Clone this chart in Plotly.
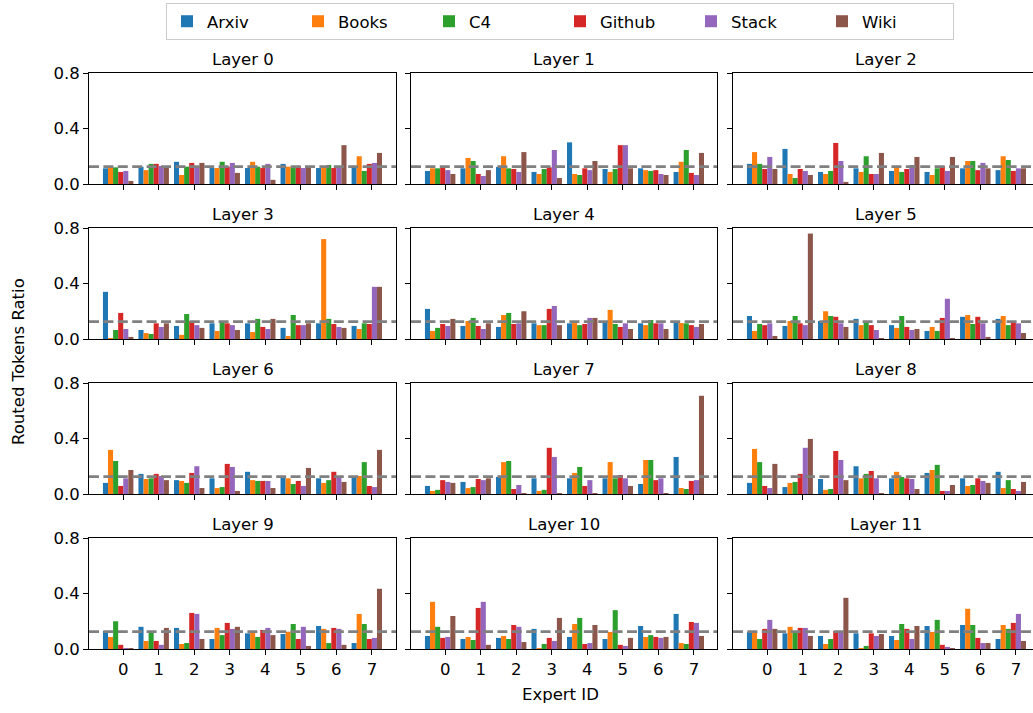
import plotly.graph_objects as go

datasets = ["Arxiv", "Books", "C4", "Github", "Stack", "Wiki"]
colors = ["#1f77b4", "#ff7f0e", "#2ca02c", "#d62728", "#9467bd", "#8c564b"]
experts = [0, 1, 2, 3, 4, 5, 6, 7]
layer_names = [f"Layer {i}" for i in range(12)]
y_ticks = [0.0, 0.4, 0.8]
y_tick_text = ["0.0", "0.4", "0.8"]

# each row: one expert, values per dataset (Arxiv, Books, C4, Github, Stack, Wiki)
layer0 = [[0.113, 0.12, 0.12, 0.087, 0.094, 0.022],
          [0.125, 0.10, 0.145, 0.145, 0.13, 0.125],
          [0.16, 0.065, 0.125, 0.152, 0.125, 0.152],
          [0.115, 0.115, 0.16, 0.125, 0.152, 0.08],
          [0.115, 0.16, 0.125, 0.115, 0.145, 0.03],
          [0.145, 0.125, 0.115, 0.13, 0.115, 0.12],
          [0.115, 0.115, 0.137, 0.115, 0.12, 0.28],
          [0.123, 0.20, 0.094, 0.145, 0.152, 0.224]]
layer1 = [[0.094, 0.113, 0.113, 0.12, 0.10, 0.072],
          [0.113, 0.188, 0.166, 0.072, 0.058, 0.10],
          [0.123, 0.20, 0.113, 0.108, 0.087, 0.23],
          [0.087, 0.072, 0.108, 0.12, 0.245, 0.043],
          [0.30, 0.072, 0.065, 0.113, 0.10, 0.166],
          [0.108, 0.087, 0.108, 0.28, 0.28, 0.113],
          [0.113, 0.10, 0.094, 0.10, 0.072, 0.065],
          [0.087, 0.16, 0.245, 0.08, 0.065, 0.224]]
layer2 = [[0.145, 0.23, 0.145, 0.108, 0.195, 0.108],
          [0.253, 0.072, 0.043, 0.108, 0.094, 0.065],
          [0.087, 0.072, 0.094, 0.296, 0.166, 0.015],
          [0.113, 0.087, 0.20, 0.072, 0.072, 0.224],
          [0.094, 0.13, 0.087, 0.108, 0.137, 0.195],
          [0.087, 0.065, 0.113, 0.13, 0.094, 0.195],
          [0.113, 0.166, 0.166, 0.10, 0.152, 0.113],
          [0.10, 0.20, 0.173, 0.094, 0.113, 0.113]]
layer3 = [[0.34, 0.005, 0.065, 0.188, 0.072, 0.015],
          [0.065, 0.043, 0.036, 0.113, 0.087, 0.113],
          [0.094, 0.03, 0.18, 0.13, 0.10, 0.08],
          [0.113, 0.058, 0.13, 0.113, 0.10, 0.065],
          [0.113, 0.05, 0.145, 0.087, 0.072, 0.145],
          [0.08, 0.022, 0.173, 0.10, 0.10, 0.113],
          [0.113, 0.72, 0.145, 0.108, 0.087, 0.08],
          [0.094, 0.072, 0.113, 0.108, 0.376, 0.376]]
layer4 = [[0.217, 0.058, 0.08, 0.108, 0.094, 0.145],
          [0.094, 0.13, 0.152, 0.094, 0.072, 0.113],
          [0.087, 0.173, 0.188, 0.108, 0.113, 0.20],
          [0.113, 0.10, 0.10, 0.217, 0.238, 0.10],
          [0.113, 0.115, 0.10, 0.108, 0.152, 0.152],
          [0.123, 0.21, 0.108, 0.087, 0.113, 0.072],
          [0.113, 0.10, 0.137, 0.113, 0.113, 0.072],
          [0.13, 0.115, 0.113, 0.10, 0.087, 0.108]]
layer5 = [[0.166, 0.058, 0.108, 0.10, 0.113, 0.022],
          [0.094, 0.13, 0.166, 0.113, 0.10, 0.76],
          [0.13, 0.20, 0.166, 0.16, 0.113, 0.087],
          [0.145, 0.10, 0.13, 0.10, 0.065, 0.002],
          [0.10, 0.08, 0.166, 0.087, 0.065, 0.072],
          [0.058, 0.087, 0.058, 0.152, 0.29, 0.005],
          [0.16, 0.173, 0.108, 0.16, 0.113, 0.015],
          [0.145, 0.166, 0.10, 0.13, 0.113, 0.043]]
layer6 = [[0.08, 0.318, 0.238, 0.058, 0.113, 0.173],
          [0.145, 0.108, 0.113, 0.145, 0.13, 0.10],
          [0.10, 0.094, 0.08, 0.152, 0.20, 0.043],
          [0.113, 0.043, 0.05, 0.217, 0.195, 0.022],
          [0.16, 0.10, 0.094, 0.094, 0.094, 0.043],
          [0.123, 0.113, 0.072, 0.094, 0.058, 0.188],
          [0.113, 0.08, 0.10, 0.16, 0.123, 0.087],
          [0.123, 0.13, 0.23, 0.058, 0.05, 0.318]]
layer7 = [[0.058, 0.022, 0.03, 0.10, 0.087, 0.08],
          [0.087, 0.043, 0.05, 0.108, 0.10, 0.113],
          [0.123, 0.23, 0.238, 0.036, 0.065, 0.002],
          [0.113, 0.022, 0.03, 0.333, 0.267, 0.007],
          [0.113, 0.152, 0.195, 0.058, 0.10, 0.002],
          [0.113, 0.23, 0.113, 0.137, 0.113, 0.058],
          [0.072, 0.245, 0.245, 0.10, 0.113, 0.002],
          [0.267, 0.043, 0.036, 0.094, 0.10, 0.708]]
layer8 = [[0.08, 0.325, 0.23, 0.058, 0.043, 0.217],
          [0.05, 0.08, 0.087, 0.145, 0.333, 0.397],
          [0.108, 0.03, 0.036, 0.31, 0.245, 0.10],
          [0.20, 0.113, 0.145, 0.166, 0.113, 0.002],
          [0.113, 0.16, 0.123, 0.113, 0.108, 0.036],
          [0.152, 0.173, 0.21, 0.022, 0.022, 0.065],
          [0.113, 0.058, 0.065, 0.113, 0.094, 0.08],
          [0.16, 0.043, 0.10, 0.036, 0.022, 0.087]]
layer9 = [[0.13, 0.087, 0.20, 0.03, 0.007, 0.002],
          [0.16, 0.058, 0.125, 0.058, 0.03, 0.152],
          [0.152, 0.036, 0.043, 0.26, 0.253, 0.072],
          [0.072, 0.152, 0.10, 0.188, 0.145, 0.16],
          [0.113, 0.123, 0.087, 0.137, 0.152, 0.10],
          [0.108, 0.125, 0.18, 0.072, 0.16, 0.022],
          [0.166, 0.145, 0.043, 0.152, 0.145, 0.03],
          [0.043, 0.253, 0.18, 0.072, 0.08, 0.434]]
layer10 = [[0.094, 0.34, 0.16, 0.08, 0.087, 0.238],
           [0.072, 0.087, 0.065, 0.296, 0.34, 0.03],
           [0.08, 0.094, 0.072, 0.173, 0.16, 0.05],
           [0.145, 0.007, 0.036, 0.08, 0.058, 0.224],
           [0.087, 0.18, 0.224, 0.036, 0.043, 0.173],
           [0.072, 0.123, 0.28, 0.03, 0.022, 0.08],
           [0.166, 0.087, 0.10, 0.087, 0.08, 0.087],
           [0.253, 0.043, 0.036, 0.195, 0.188, 0.094]]
layer11 = [[0.123, 0.123, 0.072, 0.145, 0.21, 0.145],
           [0.113, 0.16, 0.123, 0.152, 0.152, 0.094],
           [0.094, 0.036, 0.072, 0.13, 0.13, 0.369],
           [0.113, 0.007, 0.022, 0.113, 0.094, 0.108],
           [0.094, 0.065, 0.18, 0.145, 0.072, 0.166],
           [0.166, 0.123, 0.21, 0.03, 0.015, 0.002],
           [0.173, 0.29, 0.173, 0.08, 0.043, 0.043],
           [0.072, 0.173, 0.145, 0.188, 0.253, 0.058]]

layers = [layer0, layer1, layer2, layer3, layer4, layer5,
          layer6, layer7, layer8, layer9, layer10, layer11]
uniform_ratio = 1 / len(experts)

W, H = 1033, 713
FONT = "DejaVu Sans"
FS = 16.5
bar_w = 1 / 7

# subplot pixel boxes
col_px = [(89, 396), (411, 717), (733, 1033)]
row_px = [(73, 184), (228, 339), (383, 494), (538, 649)]
px_per_unit = (396 - 89) / 8.643
x0_range = -0.964

fig = go.Figure()
layout = dict(
    width=W, height=H,
    margin=dict(l=0, r=0, t=0, b=0),
    plot_bgcolor="white", paper_bgcolor="white",
    barmode="overlay",
    font=dict(family=FONT, size=FS, color="black"),
    showlegend=True,
    legend=dict(orientation="h", x=166 / W, xanchor="left", y=1 - 3 / H, yanchor="top",
                bordercolor="#cccccc", borderwidth=1, bgcolor="white",
                font=dict(family=FONT, size=FS), entrywidth=86,
                traceorder="normal"),
)
shapes = []
annotations = []

for li, data in enumerate(layers):
    r, c = divmod(li, 3)
    k = li + 1
    xa = f"x{k}" if k > 1 else "x"
    ya = f"y{k}" if k > 1 else "y"
    for di, name in enumerate(datasets):
        vals = [row[di] for row in data]
        fig.add_trace(go.Bar(
            x=experts, y=vals, name=name, width=bar_w, offset=(di - 4) * bar_w,
            marker=dict(color=colors[di], line=dict(width=0)),
            xaxis=xa, yaxis=ya, legendgroup=name, showlegend=(li == 0),
        ))
    cx0, cx1 = col_px[c]
    ry0, ry1 = row_px[r]
    xr1 = x0_range + (cx1 - cx0) / px_per_unit
    layout[f"xaxis{k}"] = dict(
        domain=[cx0 / W, cx1 / W], anchor=ya, range=[x0_range, xr1],
        tickmode="array", tickvals=experts, ticktext=[str(e) for e in experts],
        showticklabels=(r == 3), ticks="outside", ticklen=5, tickwidth=1.1,
        tickcolor="black", showgrid=False, zeroline=False,
        showline=True, linecolor="black", linewidth=1.1, mirror=True,
        tickfont=dict(family=FONT, size=FS), automargin=False,
    )
    layout[f"yaxis{k}"] = dict(
        domain=[1 - ry1 / H, 1 - ry0 / H], anchor=xa, range=[0, 0.8],
        tickmode="array", tickvals=y_ticks, ticktext=y_tick_text,
        showticklabels=(c == 0), ticks="outside", ticklen=5, tickwidth=1.1,
        tickcolor="black", showgrid=False, zeroline=False,
        showline=True, linecolor="black", linewidth=1.1, mirror=True,
        tickfont=dict(family=FONT, size=FS), automargin=False,
    )
    shapes.append(dict(type="line", xref=f"{xa} domain", yref=ya,
                       x0=0, x1=1, y0=uniform_ratio, y1=uniform_ratio,
                       line=dict(color="#808080", width=2.8, dash="10px,4.4px"),
                       layer="above"))
    annotations.append(dict(text=layer_names[li], xref="paper", yref="paper",
                            x=(cx0 + cx1) / 2 / W if c < 2 else (cx0 + cx0 + 306) / 2 / W,
                            y=1 - ry0 / H, xanchor="center", yanchor="bottom",
                            yshift=2, showarrow=False,
                            font=dict(family=FONT, size=FS)))

annotations.append(dict(text="Expert ID", xref="paper", yref="paper",
                        x=560 / W, y=1 - 694 / H, xanchor="center", yanchor="middle",
                        showarrow=False, font=dict(family=FONT, size=FS)))
annotations.append(dict(text="Routed Tokens Ratio", xref="paper", yref="paper",
                        x=18 / W, y=1 - 362 / H, xanchor="center", yanchor="middle",
                        textangle=-90, showarrow=False, font=dict(family=FONT, size=FS)))

layout["shapes"] = shapes
layout["annotations"] = annotations
fig.update_layout(**layout)
fig.write_html("out.html", config={"displayModeBar": False},
               post_script="document.body.style.margin='0';document.body.style.overflow='hidden';")
